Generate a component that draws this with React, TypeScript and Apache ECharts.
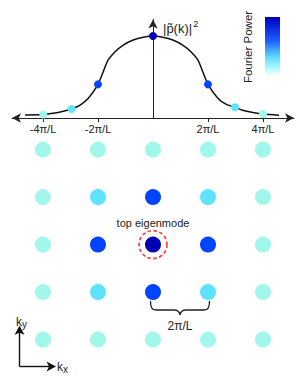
import React, { useEffect, useRef } from 'react';
import * as echarts from 'echarts';

// ---- data (k in units of π/L) ----
const curveK = [
  -4.65, -3.99, -3.63, -3.26, -2.96, -2.65, -2.35, -2.0, -1.81, -1.63, -1.38, -1.08, -0.72, -0.35, 0,
  0.35, 0.72, 1.08, 1.38, 1.63, 1.81, 2.0, 2.35, 2.65, 2.98, 3.26, 3.63, 4.0, 4.58,
];
const curvePower = [
  0.037, 0.042, 0.057, 0.082, 0.11, 0.158, 0.24, 0.41, 0.564, 0.707, 0.808, 0.889, 0.95, 0.985, 1.0,
  0.985, 0.95, 0.889, 0.808, 0.707, 0.564, 0.41, 0.245, 0.168, 0.13, 0.095, 0.068, 0.049, 0.035,
];
const sampleK = [-3.99, -2.96, -2, 0, 2, 2.98, 4];
const samplePower = [0.042, 0.11, 0.41, 1, 0.41, 0.13, 0.049];
const latticeKx = [-4, -2, 0, 2, 4];
const latticeKy = [4, 2, 0, -2, -4];
const latticePower = [
  [0.04, 0.04, 0.04, 0.04, 0.04],
  [0.04, 0.13, 0.41, 0.13, 0.04],
  [0.04, 0.41, 1.0, 0.41, 0.04],
  [0.04, 0.13, 0.41, 0.13, 0.04],
  [0.04, 0.04, 0.04, 0.04, 0.04],
];
const topMode = [[0, 0]];
const tickValues = [-4, -2, 2, 4];
const tickLabels = ['-4π/L', '-2π/L', '2π/L', '4π/L'];

const FONT = 'Liberation Sans, Arial, Helvetica, sans-serif';

const braceD =
  'M0 0 C0 6 1 9 6 9 L23.5 9 C27 9 29 11 29.5 14 C30 11 32 9 35.5 9 L53 9 C58 9 59 6 59 0';

export default function App() {
  const ref = useRef<HTMLDivElement>(null);
  useEffect(() => {
    if (!ref.current) return;
    echarts.graphic.registerShape('brace', echarts.graphic.extendPath(braceD, {}));
    const chart = echarts.init(ref.current, undefined, { renderer: 'svg' });

    const latticeData: number[][] = [];
    latticeKy.forEach((ky, r) => {
      latticeKx.forEach((kx, c) => {
        latticeData.push([kx, ky, latticePower[r][c]]);
      });
    });

    const option: any = {
      animation: false,
      backgroundColor: '#fff',
      textStyle: { fontFamily: FONT },
      grid: [
        { left: 12, right: 13, top: 19.5, height: 98.5 },
        { left: 12, right: 13, top: 125.85, height: 237.5 },
      ],
      xAxis: [
        {
          type: 'value',
          gridIndex: 0,
          min: -5.127,
          max: 5.127,
          splitLine: { show: false },
          axisLine: {
            show: true,
            onZero: false,
            symbol: ['arrow', 'arrow'],
            symbolSize: [7, 9],
            lineStyle: { color: '#222', width: 1 },
          },
          axisTick: {
            show: true,
            customValues: tickValues,
            length: 4,
            lineStyle: { color: '#222', width: 1 },
          },
          axisLabel: {
            show: true,
            customValues: tickValues,
            margin: 5,
            fontSize: 11,
            color: '#222',
            fontFamily: FONT,
            formatter: (v: number) => tickLabels[tickValues.indexOf(v)] ?? '',
          },
        },
        {
          type: 'value',
          gridIndex: 1,
          min: -5.127,
          max: 5.127,
          show: false,
        },
      ],
      yAxis: [
        {
          type: 'value',
          gridIndex: 0,
          min: 0,
          max: 1.2,
          splitLine: { show: false },
          axisTick: { show: false },
          axisLabel: { show: false },
          axisLine: {
            show: true,
            onZero: true,
            symbol: ['none', 'arrow'],
            symbolSize: [7, 9],
            lineStyle: { color: '#222', width: 1 },
          },
        },
        {
          type: 'value',
          gridIndex: 1,
          min: -5,
          max: 5,
          show: false,
        },
      ],
      visualMap: {
        type: 'piecewise',
        show: false,
        dimension: 2,
        seriesIndex: [1, 2],
        pieces: [
          { gte: 0.7, color: '#0000b4' },
          { gte: 0.3, lt: 0.7, color: '#0044ff' },
          { gte: 0.1, lt: 0.3, color: '#5ee3ff' },
          { lt: 0.1, color: '#a2f7eb' },
        ],
      },
      series: [
        {
          type: 'line',
          xAxisIndex: 0,
          yAxisIndex: 0,
          data: curveK.map((k, i) => [k, curvePower[i]]),
          smooth: 0.25,
          showSymbol: false,
          lineStyle: { color: '#111', width: 1.5 },
          z: 2,
        },
        {
          type: 'scatter',
          xAxisIndex: 0,
          yAxisIndex: 0,
          data: sampleK.map((k, i) => [k, samplePower[i], samplePower[i]]),
          symbolSize: 8,
          itemStyle: { opacity: 1 },
          z: 3,
        },
        {
          type: 'scatter',
          xAxisIndex: 1,
          yAxisIndex: 1,
          data: latticeData,
          symbolSize: 16,
          itemStyle: { opacity: 1 },
          z: 3,
        },
        {
          type: 'scatter',
          xAxisIndex: 1,
          yAxisIndex: 1,
          data: topMode,
          symbolSize: 28,
          itemStyle: {
            color: 'rgba(0,0,0,0)',
            opacity: 1,
            borderColor: '#ff3333',
            borderWidth: 1.6,
            borderType: [3.5, 2.5],
          },
          label: {
            show: true,
            position: 'top',
            distance: 1,
            formatter: 'top eigenmode',
            fontSize: 11,
            color: '#222',
            fontFamily: FONT,
          },
          z: 4,
        },
      ],
      graphic: [
        {
          type: 'rect',
          shape: { x: 265, y: 17, width: 15, height: 59 },
          style: {
            fill: {
              type: 'linear',
              x: 0, y: 0, x2: 0, y2: 1,
              colorStops: [
                { offset: 0, color: '#0000c0' },
                { offset: 0.4, color: '#1d5cff' },
                { offset: 0.68, color: '#5fdcff' },
                { offset: 0.85, color: '#a8f6ff' },
                { offset: 1, color: '#ffffff' },
              ],
            },
          },
        },
        {
          type: 'text',
          x: 248,
          y: 47,
          rotation: Math.PI / 2,
          style: {
            text: 'Fourier Power',
            fill: '#222',
            font: `11.5px ${FONT}`,
            align: 'center',
            verticalAlign: 'middle',
          },
        },
        {
          type: 'text',
          x: 163,
          y: 28,
          style: {
            text: '{m||p\u0303(k)|}{s|2}',
            align: 'left',
            verticalAlign: 'middle',
            rich: {
              m: { fontSize: 13, fontFamily: FONT, fill: '#222', lineHeight: 16 },
              s: { fontSize: 9, fontFamily: FONT, fill: '#222', verticalAlign: 'top', padding: [0, 0, 8, 1] },
            },
          },
        },
        {
          type: 'brace',
          x: 150.5,
          y: 301,
          style: { stroke: '#222', fill: 'none', lineWidth: 1.3 },
        },
        {
          type: 'text',
          x: 180,
          y: 325.5,
          style: {
            text: '2π/L',
            fill: '#222',
            font: `12px ${FONT}`,
            align: 'center',
            verticalAlign: 'middle',
          },
        },
        {
          type: 'line',
          shape: { x1: 19.5, y1: 366.5, x2: 19.5, y2: 332 },
          style: { stroke: '#111', lineWidth: 1.4 },
        },
        {
          type: 'polygon',
          shape: { points: [[19.5, 325.5], [14.5, 335], [19.5, 332.5], [24.5, 335]] },
          style: { fill: '#111' },
        },
        {
          type: 'line',
          shape: { x1: 19.5, y1: 366.5, x2: 49, y2: 366.5 },
          style: { stroke: '#111', lineWidth: 1.4 },
        },
        {
          type: 'polygon',
          shape: { points: [[56, 366.5], [46.5, 361.5], [49, 366.5], [46.5, 371.5]] },
          style: { fill: '#111' },
        },
        {
          type: 'text',
          x: 16,
          y: 322,
          style: {
            text: '{k|k}{s|y}',
            verticalAlign: 'middle',
            rich: {
              k: { fontSize: 12, fontFamily: FONT, fill: '#222' },
              s: { fontSize: 10, fontFamily: FONT, fill: '#222', padding: [4, 0, 0, 0] },
            },
          },
        },
        {
          type: 'text',
          x: 57,
          y: 367,
          style: {
            text: '{k|k}{s|x}',
            verticalAlign: 'middle',
            rich: {
              k: { fontSize: 12, fontFamily: FONT, fill: '#222' },
              s: { fontSize: 10, fontFamily: FONT, fill: '#222', padding: [5, 0, 0, 0] },
            },
          },
        },
      ],
    };
    chart.setOption(option);
    return () => chart.dispose();
  }, []);
  return (
    <div
      ref={ref}
      style={{ position: 'absolute', left: 0, top: 0, width: 307, height: 385 }}
    />
  );
}
